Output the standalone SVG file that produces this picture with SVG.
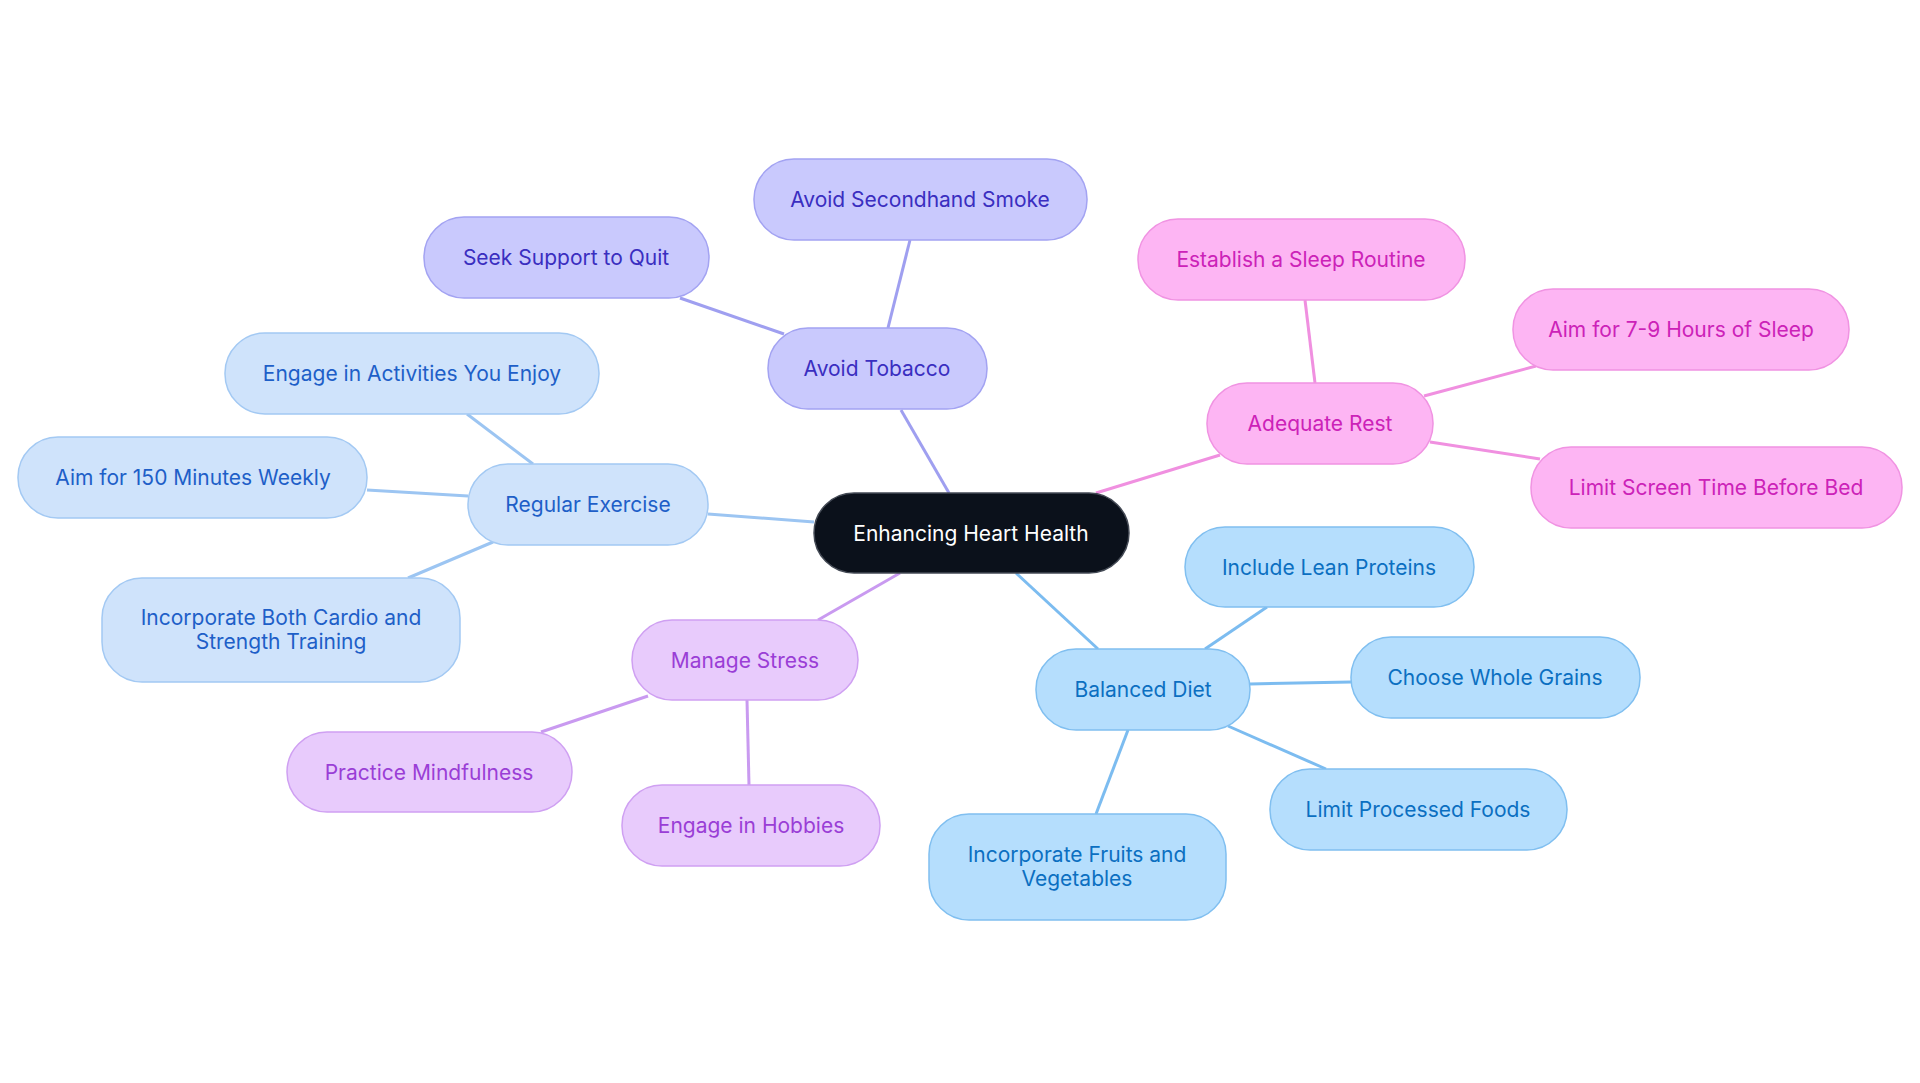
<svg xmlns="http://www.w3.org/2000/svg" width="1920" height="1083" viewBox="0 0 1920 1083">
<style>
text{font-family:Inter,"Noto Sans",sans-serif;font-size:21px;text-anchor:middle;dominant-baseline:central}
.e{fill:none;stroke-width:3}
.t rect{fill:#c9c9fd;stroke:#a3a3f2}.t text{fill:#3a2ec0}
.x rect{fill:#cfe3fb;stroke:#a3c9f3}.x text{fill:#1e5fc8}
.s rect{fill:#e8cbfc;stroke:#cfa0f2}.s text{fill:#9a3ed6}
.d rect{fill:#b5defd;stroke:#80bff0}.d text{fill:#0b6fc1}
.r rect{fill:#fdb5f3;stroke:#f093e2}.r text{fill:#cc22b8}
rect{stroke-width:1.5}
</style>
<rect width="1920" height="1083" fill="#fff"/>
<g id="connectors">
<g class="e" stroke="#9f9ff0"><path d="M949 493L901 410"/><path d="M888 328L910 240"/><path d="M784 334L680 298"/></g>
<g class="e" stroke="#9cc5f2"><path d="M814 522L708 514"/><path d="M533 464L467 414"/><path d="M468 496L367 490"/><path d="M493 542L408 578"/></g>
<g class="e" stroke="#c99af0"><path d="M900 573L818 620"/><path d="M648 696L541 732"/><path d="M747 700L749 785"/></g>
<g class="e" stroke="#7cbcf0"><path d="M1016 573L1098 649"/><path d="M1205 649L1267 607"/><path d="M1250 684L1351 682"/><path d="M1228 726L1326 769"/><path d="M1128 730L1096 814"/></g>
<g class="e" stroke="#f090e0"><path d="M1096 493L1220 455"/><path d="M1305 300L1315 383"/><path d="M1424 396L1536 366"/><path d="M1430 442L1540 459"/></g>
</g>
<g id="center"><rect x="814" y="493" width="315" height="80" rx="40" fill="#0b111b" stroke="#444a55"/><text x="971" y="533" fill="#fff">Enhancing Heart Health</text></g>
<g id="tobacco" class="t"><rect x="768" y="328" width="219" height="81" rx="40"/><text x="877" y="368">Avoid Tobacco</text></g>
<g id="secondhand" class="t"><rect x="754" y="159" width="333" height="81" rx="40"/><text x="920" y="199">Avoid Secondhand Smoke</text></g>
<g id="seek" class="t"><rect x="424" y="217" width="285" height="81" rx="40"/><text x="566" y="257">Seek Support to Quit</text></g>
<g id="exercise" class="x"><rect x="468" y="464" width="240" height="81" rx="40"/><text x="588" y="504">Regular Exercise</text></g>
<g id="activities" class="x"><rect x="225" y="333" width="374" height="81" rx="40"/><text x="412" y="373">Engage in Activities You Enjoy</text></g>
<g id="minutes" class="x"><rect x="18" y="437" width="349" height="81" rx="40"/><text x="193" y="477">Aim for 150 Minutes Weekly</text></g>
<g id="cardio" class="x"><rect x="102" y="578" width="358" height="104" rx="40"/><text x="281" y="617">Incorporate Both Cardio and</text><text x="281" y="641">Strength Training</text></g>
<g id="stress" class="s"><rect x="632" y="620" width="226" height="80" rx="40"/><text x="745" y="660">Manage Stress</text></g>
<g id="mindfulness" class="s"><rect x="287" y="732" width="285" height="80" rx="40"/><text x="429" y="772">Practice Mindfulness</text></g>
<g id="hobbies" class="s"><rect x="622" y="785" width="258" height="81" rx="40"/><text x="751" y="825">Engage in Hobbies</text></g>
<g id="diet" class="d"><rect x="1036" y="649" width="214" height="81" rx="40"/><text x="1143" y="689">Balanced Diet</text></g>
<g id="proteins" class="d"><rect x="1185" y="527" width="289" height="80" rx="40"/><text x="1329" y="567">Include Lean Proteins</text></g>
<g id="grains" class="d"><rect x="1351" y="637" width="289" height="81" rx="40"/><text x="1495" y="677">Choose Whole Grains</text></g>
<g id="processed" class="d"><rect x="1270" y="769" width="297" height="81" rx="40"/><text x="1418" y="809">Limit Processed Foods</text></g>
<g id="fruits" class="d"><rect x="929" y="814" width="297" height="106" rx="40"/><text x="1077" y="854">Incorporate Fruits and</text><text x="1077" y="878">Vegetables</text></g>
<g id="rest" class="r"><rect x="1207" y="383" width="226" height="81" rx="40"/><text x="1320" y="423">Adequate Rest</text></g>
<g id="routine" class="r"><rect x="1138" y="219" width="327" height="81" rx="40"/><text x="1301" y="259">Establish a Sleep Routine</text></g>
<g id="hours" class="r"><rect x="1513" y="289" width="336" height="81" rx="40"/><text x="1681" y="329">Aim for 7-9 Hours of Sleep</text></g>
<g id="screen" class="r"><rect x="1531" y="447" width="371" height="81" rx="40"/><text x="1716" y="487">Limit Screen Time Before Bed</text></g>
</svg>
